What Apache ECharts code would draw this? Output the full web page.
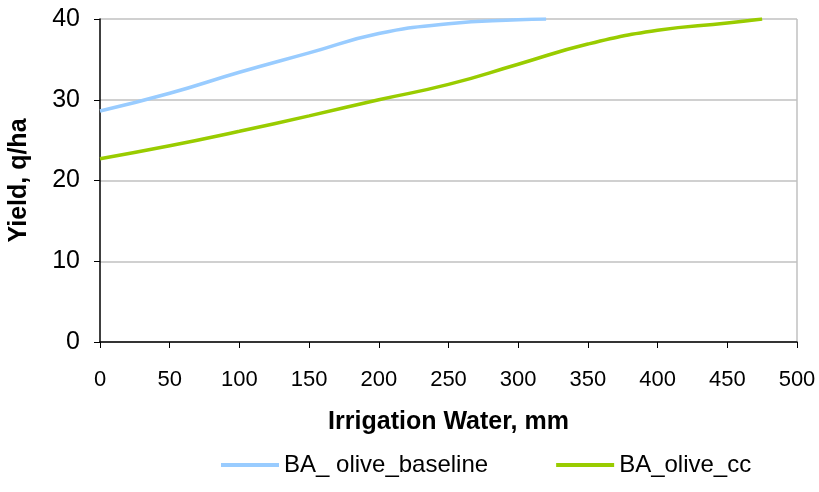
<!DOCTYPE html>
<html>
<head>
<meta charset="utf-8">
<script src="https://cdn.jsdelivr.net/npm/echarts@6/dist/echarts.min.js"></script>
<style>
  html, body { margin: 0; padding: 0; background: #fff; }
  #chart { width: 819px; height: 492px; }
</style>
</head>
<body>
<div id="chart"></div>
<script>
// 数据
const baselineX = [0, 50, 100, 150, 200, 250, 300, 320]
const baselineY = [28.6, 30.8, 33.4, 35.8, 38.2, 39.4, 39.9, 40]
const ccX = [0, 50, 100, 150, 200, 250, 300, 350, 400, 450, 475]
const ccY = [22.7, 24.3, 26.1, 28.0, 30.0, 31.9, 34.4, 36.9, 38.6, 39.5, 40]
const xTicks = [0, 50, 100, 150, 200, 250, 300, 350, 400, 450, 500]

const chart = echarts.init(document.getElementById('chart'))

const option = {
  animation: false,
  color: ['#99ccff', '#99cc00'],
  textStyle: { fontFamily: 'Liberation Sans, Arial, sans-serif', color: '#000' },
  grid: { left: 100, right: 22, top: 19, bottom: 150, outerBoundsMode: 'none' },
  legend: {
    bottom: 10,
    left: 216,
    itemWidth: 58,
    itemHeight: 4,
    itemGap: 68,
    icon: 'rect',
    textStyle: { fontSize: 24, color: '#000' },
    data: ['BA_ olive_baseline', 'BA_olive_cc']
  },
  xAxis: {
    type: 'value',
    min: 0,
    max: 500,
    interval: 50,
    name: 'Irrigation Water, mm',
    nameLocation: 'middle',
    nameGap: 68,
    nameTextStyle: { fontSize: 25, fontWeight: 'bold', color: '#000' },
    axisLine: { lineStyle: { color: '#000', width: 1.5 } },
    axisTick: { show: true, length: 6, lineStyle: { color: '#000' } },
    axisLabel: {
      fontSize: 22,
      color: '#000',
      margin: 27,
      formatter: v => (xTicks.includes(v) ? String(v) : '')
    },
    splitLine: { show: false }
  },
  yAxis: {
    type: 'value',
    min: 0,
    max: 40,
    interval: 10,
    name: 'Yield, q/ha',
    nameLocation: 'middle',
    nameGap: 68,
    nameTextStyle: { fontSize: 25, fontWeight: 'bold', color: '#000' },
    axisLine: { show: true, lineStyle: { color: '#000', width: 1.5 } },
    axisTick: { show: true, length: 6, lineStyle: { color: '#000' } },
    axisLabel: { fontSize: 25, color: '#000', margin: 20 },
    splitLine: { show: true, lineStyle: { color: '#c0c0c0', width: 1.5 } }
  },
  series: [
    {
      name: 'BA_ olive_baseline',
      type: 'line',
      smooth: true,
      showSymbol: false,
      lineStyle: { width: 3.5 },
      data: baselineX.map((x, i) => [x, baselineY[i]])
    },
    {
      name: 'BA_olive_cc',
      type: 'line',
      smooth: true,
      showSymbol: false,
      lineStyle: { width: 3.5 },
      data: ccX.map((x, i) => [x, ccY[i]])
    }
  ],
  graphic: [
    {
      type: 'line',
      shape: { x1: 797, y1: 19, x2: 797, y2: 342 },
      style: { stroke: '#c0c0c0', lineWidth: 1.5 }
    }
  ]
}

chart.setOption(option)
</script>
</body>
</html>
